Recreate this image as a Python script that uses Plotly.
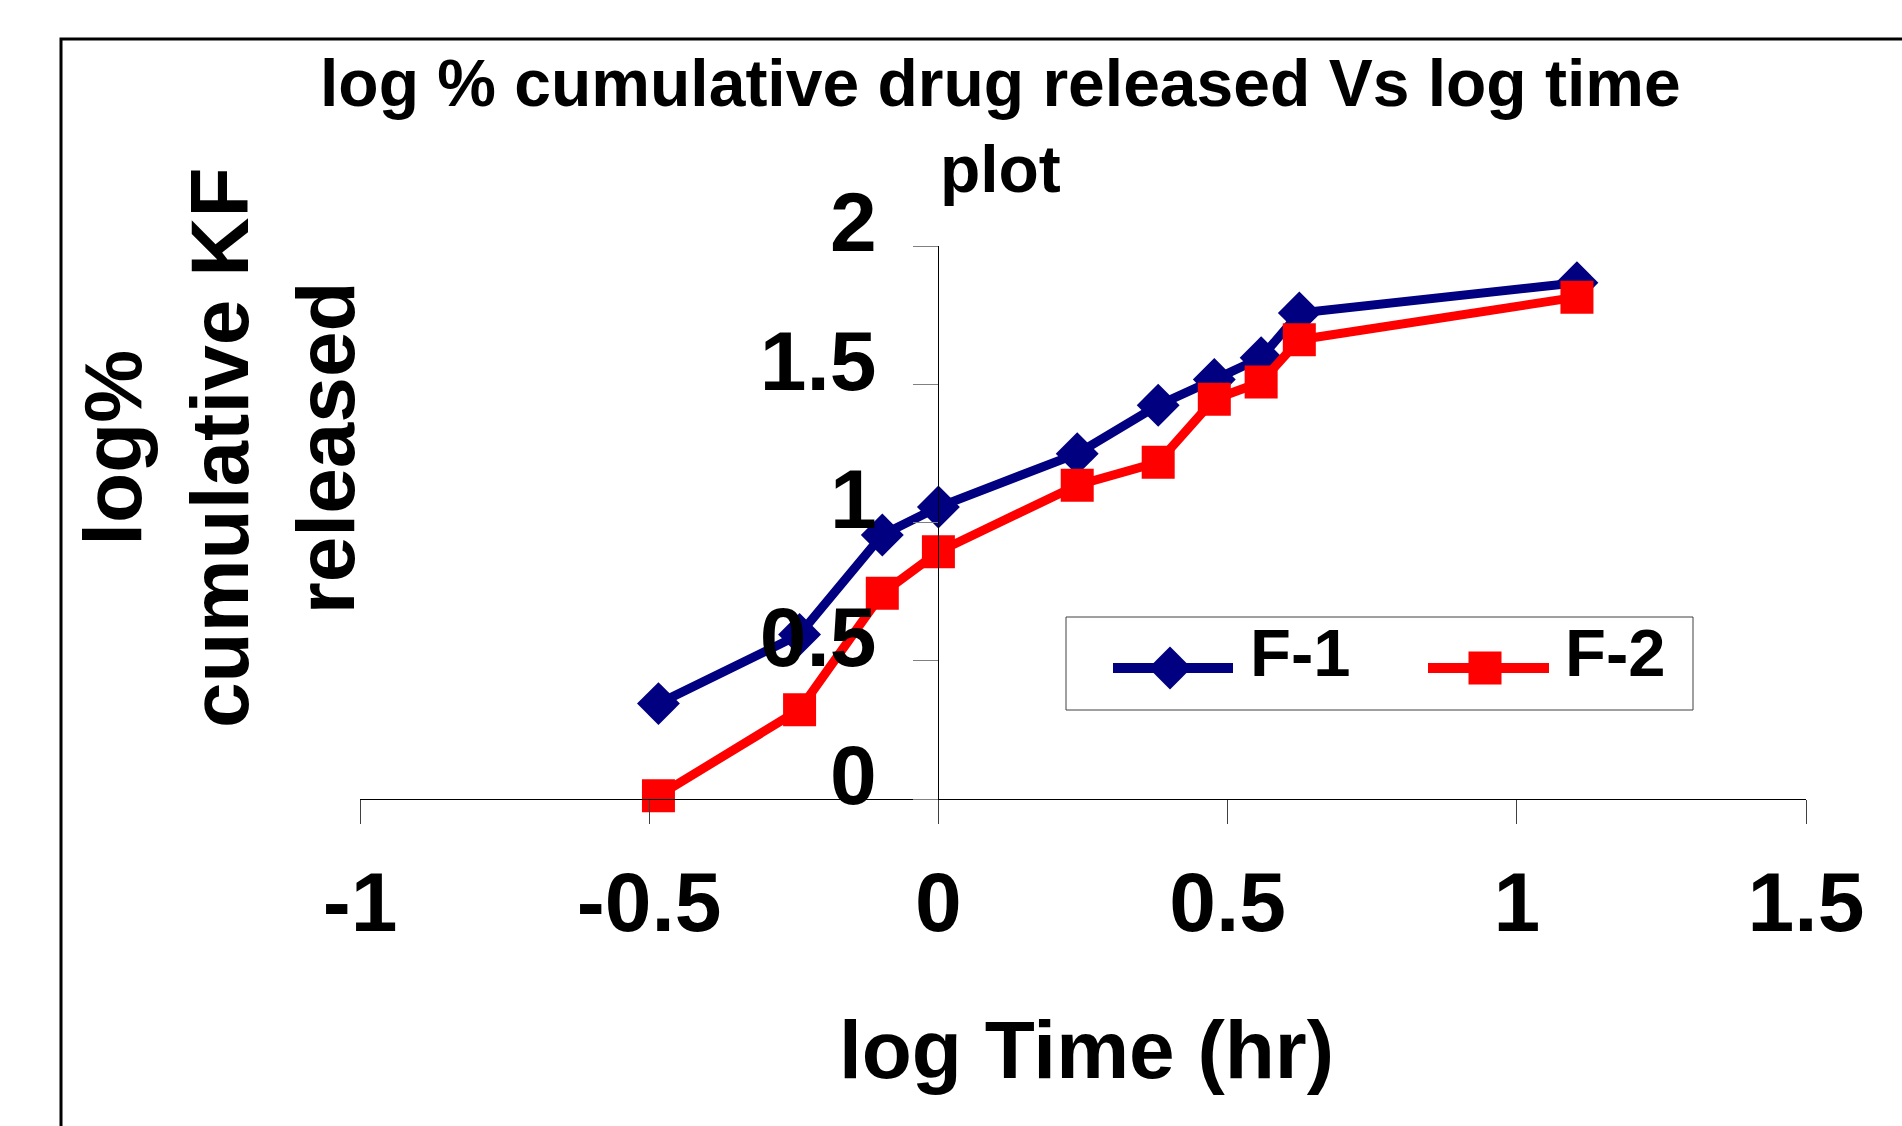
import plotly.graph_objects as go

# ---- data ----
log_time = [-0.484, -0.240, -0.097, 0.0, 0.240, 0.380, 0.477, 0.558, 0.624, 1.104]
f1_values = [0.345, 0.595, 0.955, 1.056, 1.249, 1.424, 1.517, 1.596, 1.758, 1.867]
f2_values = [0.012, 0.323, 0.744, 0.894, 1.135, 1.218, 1.446, 1.508, 1.661, 1.815]
series_names = ["F-1", "F-2"]
x_tick_vals = [-1, -0.5, 0, 0.5, 1, 1.5]
x_tick_text = ["-1", "-0.5", "0", "0.5", "1", "1.5"]
y_tick_vals = [0, 0.5, 1, 1.5, 2]
y_tick_text = ["0", "0.5", "1", "1.5", "2"]

title_text = "log % cumulative drug released Vs log time<br>plot"
x_title = "log Time (hr)"
y_title = "log%<br>cumulative KF<br>released"

NAVY = "#000080"
RED = "#FF0000"
FONT = "Liberation Sans, Arial, sans-serif"

W, H = 1902, 1126
L, R, T, B = 360, 96, 246, 327
PW, PH = W - L - R, H - T - B


def fx(px):
    return (px - L) / PW


def fy(py):
    return (H - B - py) / PH


fig = go.Figure()

fig.add_trace(go.Scatter(
    x=log_time, y=f1_values, name=series_names[0], mode="lines+markers",
    line=dict(color=NAVY, width=9),
    marker=dict(symbol="diamond", size=33, color=NAVY, opacity=1, line=dict(width=0)),
    cliponaxis=False, showlegend=False))
fig.add_trace(go.Scatter(
    x=log_time, y=f2_values, name=series_names[1], mode="lines+markers",
    line=dict(color=RED, width=9),
    marker=dict(symbol="square", size=33, color=RED, opacity=1, line=dict(width=0)),
    cliponaxis=False, showlegend=False))

# ---- custom legend drawn on a pixel-space overlay axis ----
leg_y = 668
legend_items = [
    (series_names[0], NAVY, "diamond", 1113, 1233, 1170),
    (series_names[1], RED, "square", 1428, 1549, 1485),
]
for name, col, sym, xa, xb, xm in legend_items:
    fig.add_trace(go.Scatter(
        x=[xa, xb], y=[leg_y, leg_y], xaxis="x2", yaxis="y2",
        mode="lines", line=dict(color=col, width=10),
        showlegend=False, hoverinfo="skip", cliponaxis=False))
    fig.add_trace(go.Scatter(
        x=[xm], y=[leg_y], xaxis="x2", yaxis="y2",
        mode="markers",
        marker=dict(symbol=sym, size=33, color=col, opacity=1, line=dict(width=0)),
        showlegend=False, hoverinfo="skip", cliponaxis=False))

fig.update_layout(
    width=W, height=H,
    margin=dict(l=L, r=R, t=T, b=B, autoexpand=False),
    paper_bgcolor="white", plot_bgcolor="white",
    showlegend=False,
    font=dict(family=FONT, color="black"),
    xaxis=dict(
        range=[-1, 1.5], tickvals=x_tick_vals, ticktext=x_tick_text,
        showline=True, linecolor="black", linewidth=1,
        ticks="outside", ticklen=24, tickwidth=1, tickcolor="#404040",
        tickfont=dict(family=FONT, size=84, weight="bold", color="black"),
        ticklabelstandoff=6,
        showgrid=False, zeroline=False, anchor="y", automargin=False,
    ),
    yaxis=dict(
        range=[0, 2], tickvals=y_tick_vals, ticktext=y_tick_text,
        showline=True, linecolor="black", linewidth=1,
        ticks="outside", ticklen=25, tickwidth=1, tickcolor="#808080",
        tickfont=dict(family=FONT, size=84, weight="bold", color="black"),
        ticklabelstandoff=20, ticklabelshift=-24,
        showgrid=False, zeroline=False, anchor="free", position=0.4,
        automargin=False,
    ),
    xaxis2=dict(range=[L, W - R], domain=[0, 1], overlaying="x", visible=False,
                anchor="y2"),
    yaxis2=dict(range=[H - B, T], domain=[0, 1], overlaying="y", visible=False,
                anchor="x2"),
)

# outer frame
fig.add_shape(type="rect", xref="paper", yref="paper",
              x0=fx(61), x1=fx(1960), y0=fy(39), y1=fy(1200),
              line=dict(color="black", width=3), fillcolor="rgba(0,0,0,0)",
              layer="below")
# legend box
fig.add_shape(type="rect", xref="paper", yref="paper",
              x0=fx(1066), x1=fx(1693), y0=fy(617), y1=fy(710),
              line=dict(color="#404040", width=1), fillcolor="rgba(0,0,0,0)",
              layer="below")

annos = [
    dict(text=title_text, x=fx(1000), y=fy(126), xanchor="center", yanchor="middle",
         font=dict(family=FONT, size=66, weight="bold", color="black")),
    dict(text=x_title, x=fx(1086), y=fy(1049), xanchor="center", yanchor="middle",
         font=dict(family=FONT, size=82, weight="bold", color="black")),
    dict(text=y_title, x=fx(219), y=fy(448), xanchor="center", yanchor="middle",
         textangle=-90,
         font=dict(family=FONT, size=82, weight="bold", color="black")),
    dict(text=series_names[0], x=fx(1248), y=fy(652), xanchor="left", yanchor="middle",
         font=dict(family=FONT, size=67, weight="bold", color="black")),
    dict(text=series_names[1], x=fx(1563), y=fy(652), xanchor="left", yanchor="middle",
         font=dict(family=FONT, size=67, weight="bold", color="black")),
]
for a in annos:
    fig.add_annotation(xref="paper", yref="paper", showarrow=False, **a)

fig.write_html("out.html")
